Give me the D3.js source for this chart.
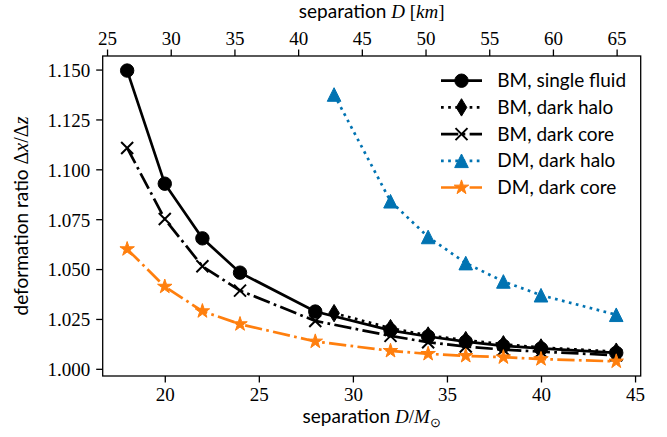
<!DOCTYPE html>
<html>
<head>
<meta charset="utf-8">
<script src="https://cdn.jsdelivr.net/npm/d3@7"></script>
<style>
  body { margin: 0; background: #fff; }
  svg { display: block; }
  .tick text { font-family: "Liberation Serif", serif; font-size: 19px; fill: #000; }
  .lab { font-family: Lato, sans-serif; font-size: 19px; fill: #000; }
  .m { font-family: "Liberation Serif", serif; font-style: italic; }
  .r { font-family: "Liberation Serif", serif; font-style: normal; }
</style>
</head>
<body>
<div id="chart"></div>
<script>
// separation D / M_sun
var xsFull = [18, 20, 22, 24, 28, 32, 34, 36, 38, 40, 44];
var xsHalo = [29, 32, 34, 36, 38, 40, 44];

var bmSingle = [1.1495, 1.0928, 1.0654, 1.0482, 1.0287, 1.0193, 1.0162, 1.0136, 1.0115, 1.0102, 1.0080];
var bmHalo   = [1.0279, 1.0204, 1.0167, 1.0144, 1.0123, 1.0107, 1.0086];
var bmCore   = [1.1107, 1.0751, 1.0514, 1.0392, 1.0240, 1.0165, 1.0133, 1.0112, 1.0096, 1.0086, 1.0068];
var dmHalo   = [1.1375, 1.0840, 1.0661, 1.0530, 1.0438, 1.0369, 1.0271];
var dmCore   = [1.0600, 1.0412, 1.0289, 1.0224, 1.0137, 1.0090, 1.0075, 1.0065, 1.0058, 1.0049, 1.0037];

var bottomTicks = [20, 25, 30, 35, 40, 45];
var topTicks = [25, 30, 35, 40, 45, 50, 55, 60, 65];
var yTicks = [1.000, 1.025, 1.050, 1.075, 1.100, 1.125, 1.150];
var kmPerMsun = 1.4766;

var series = [
  { name: "BM, single fluid", xs: xsFull, ys: bmSingle, color: "#000", dash: null, marker: "circle" },
  { name: "BM, dark halo", xs: xsHalo, ys: bmHalo, color: "#000", dash: "dot", marker: "diamond" },
  { name: "BM, dark core", xs: xsFull, ys: bmCore, color: "#000", dash: "dashdot", marker: "x" },
  { name: "DM, dark halo", xs: xsHalo, ys: dmHalo, color: "#0173b2", dash: "dot", marker: "triangle" },
  { name: "DM, dark core", xs: xsFull, ys: dmCore, color: "#ff7f0e", dash: "dashdot", marker: "star" }
];

var width = 667, height = 437;
var margin = { top: 56, right: 26.3, bottom: 61, left: 102.7 };
var lw = 2.7;

var svg = d3.select("#chart").append("svg")
  .attr("width", width)
  .attr("height", height);

var x = d3.scaleLinear().domain([16.7, 45.3]).range([margin.left, width - margin.right]);
var xKm = d3.scaleLinear().domain([16.7 * kmPerMsun, 45.3 * kmPerMsun]).range([margin.left, width - margin.right]);
var y = d3.scaleLinear().domain([0.9964, 1.1568]).range([height - margin.bottom, margin.top]);

function dashFor(d) {
  if (d === "dot") return (lw * 1) + "," + (lw * 1.65);
  if (d === "dashdot") return (lw * 6.4) + "," + (lw * 1.6) + "," + (lw * 1) + "," + (lw * 1.6);
  return null;
}

function markerPath(type) {
  var p = d3.path();
  if (type === "circle") {
    p.arc(0, 0, 6.7, 0, 2 * Math.PI);
  } else if (type === "diamond") {
    p.moveTo(0, -8.7); p.lineTo(5.3, 0); p.lineTo(0, 8.7); p.lineTo(-5.3, 0); p.closePath();
  } else if (type === "x") {
    p.moveTo(-6, -6); p.lineTo(6, 6); p.moveTo(-6, 6); p.lineTo(6, -6);
  } else if (type === "triangle") {
    p.moveTo(0, -6.8); p.lineTo(6.8, 6.8); p.lineTo(-6.8, 6.8); p.closePath();
  } else if (type === "star") {
    var R = 7.6, ri = R * 0.381966;
    for (var i = 0; i < 10; i++) {
      var a = -Math.PI / 2 + i * Math.PI / 5;
      var rr = i % 2 === 0 ? R : ri;
      if (i === 0) p.moveTo(rr * Math.cos(a), rr * Math.sin(a));
      else p.lineTo(rr * Math.cos(a), rr * Math.sin(a));
    }
    p.closePath();
  }
  return p.toString();
}

function drawMarker(g, s) {
  var m = g.append("path").attr("d", markerPath(s.marker));
  if (s.marker === "x") {
    m.attr("fill", "none").attr("stroke", s.color).attr("stroke-width", 2);
  } else {
    m.attr("fill", s.color).attr("stroke", s.color).attr("stroke-width", 1);
  }
  return m;
}

// lines and markers
var line = d3.line().x(d => x(d[0])).y(d => y(d[1]));
series.forEach(function (s) {
  var pts = s.xs.map((v, i) => [v, s.ys[i]]);
  svg.append("path")
    .datum(pts)
    .attr("d", line)
    .attr("fill", "none")
    .attr("stroke", s.color)
    .attr("stroke-width", lw)
    .attr("stroke-dasharray", dashFor(s.dash));
  pts.forEach(function (p) {
    var g = svg.append("g").attr("transform", "translate(" + x(p[0]) + "," + y(p[1]) + ")");
    drawMarker(g, s);
  });
});

// axes
var bottomAx = svg.append("g")
  .attr("transform", "translate(0," + (height - margin.bottom) + ")")
  .call(d3.axisBottom(x).tickValues(bottomTicks).tickFormat(d3.format("d")).tickSize(6.5).tickPadding(5));
var topAx = svg.append("g")
  .attr("transform", "translate(0," + margin.top + ")")
  .call(d3.axisTop(xKm).tickValues(topTicks).tickFormat(d3.format("d")).tickSize(6.5).tickPadding(5));
var leftAx = svg.append("g")
  .attr("transform", "translate(" + margin.left + ",0)")
  .call(d3.axisLeft(y).tickValues(yTicks).tickFormat(d3.format(".3f")).tickSize(6.5).tickPadding(6));

[bottomAx, topAx, leftAx].forEach(function (a) {
  a.select(".domain").remove();
  a.selectAll(".tick line").attr("stroke", "#000").attr("stroke-width", 1.3);
  a.attr("font-family", null).attr("font-size", null);
});
leftAx.selectAll(".tick text").attr("dy", "0.36em");

// frame
svg.append("rect")
  .attr("x", margin.left).attr("y", margin.top)
  .attr("width", width - margin.left - margin.right)
  .attr("height", height - margin.top - margin.bottom)
  .attr("fill", "none").attr("stroke", "#000").attr("stroke-width", 1.3);

// axis labels
var cx = (margin.left + width - margin.right) / 2;
var xl = svg.append("text").attr("class", "lab").attr("x", cx).attr("y", 423).attr("text-anchor", "middle");
xl.append("tspan").text("separation ");
xl.append("tspan").attr("class", "m").text("D");
xl.append("tspan").attr("class", "r").text("/");
xl.append("tspan").attr("class", "m").text("M");
xl.append("tspan").attr("class", "r").attr("font-size", "13px").attr("dy", "4").text("\u2299");

var tl = svg.append("text").attr("class", "lab").attr("x", cx).attr("y", 18).attr("text-anchor", "middle");
tl.append("tspan").text("separation ");
tl.append("tspan").attr("class", "m").text("D");
tl.append("tspan").attr("class", "r").text(" [");
tl.append("tspan").attr("class", "m").text("km");
tl.append("tspan").attr("class", "r").text("]");

var cy = (margin.top + height - margin.bottom) / 2;
var yl = svg.append("text").attr("class", "lab")
  .attr("transform", "translate(28," + cy + ") rotate(-90)")
  .attr("text-anchor", "middle");
yl.append("tspan").text("deformation ratio ");
yl.append("tspan").attr("class", "r").attr("font-size", "20px").text("\u0394");
yl.append("tspan").attr("class", "m").attr("font-size", "20px").text("x");
yl.append("tspan").attr("class", "r").attr("font-size", "20px").text("/\u0394");
yl.append("tspan").attr("class", "m").attr("font-size", "20px").text("z");

// legend
var legend = svg.append("g");
series.forEach(function (s, i) {
  var ly = 80.7 + i * 26.7;
  var g = legend.append("g").attr("transform", "translate(0," + ly + ")");
  g.append("line")
    .attr("x1", 441).attr("x2", 482).attr("y1", 0).attr("y2", 0)
    .attr("stroke", s.color).attr("stroke-width", lw)
    .attr("stroke-dasharray", dashFor(s.dash));
  var mg = g.append("g").attr("transform", "translate(461.5,0)");
  drawMarker(mg, s);
  g.append("text").attr("class", "lab").attr("x", 497.3).attr("y", 0).attr("dy", "0.35em").text(s.name);
});
</script>
</body>
</html>
